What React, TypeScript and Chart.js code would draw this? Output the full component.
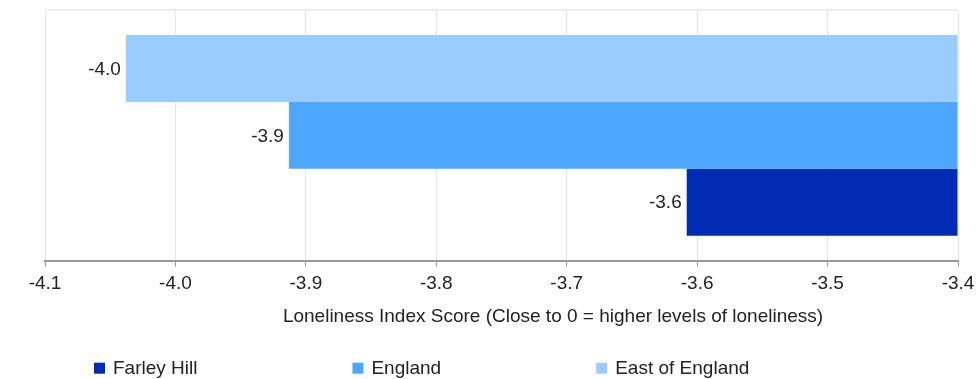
import React, { useEffect, useRef } from 'react';
import { Chart, registerables } from 'chart.js';

Chart.register(...registerables);

// ---- Data ----
const categories = ['Loneliness Index'];
const seriesNames = ['East of England', 'England', 'Farley Hill'];
const seriesValues = [-4.038, -3.913, -3.608];
const seriesColors = ['#99ccff', '#4da6ff', '#002db3'];
const legendOrder = ['Farley Hill', 'England', 'East of England'];
const xTickValues = [-4.1, -4.0, -3.9, -3.8, -3.7, -3.6, -3.5, -3.4];
const barBase = -3.4;
const axisTitle = 'Loneliness Index Score (Close to 0 = higher levels of loneliness)';

const FONT_FAMILY = '"Liberation Sans", Arial, sans-serif';
const FONT_SIZE = 19;
const TEXT_COLOR = '#222222';

const overlayPlugin = {
  id: 'overlay',
  afterDatasetsDraw(chart: any) {
    const ctx = chart.ctx;
    ctx.save();
    ctx.font = `${FONT_SIZE}px ${FONT_FAMILY}`;
    ctx.fillStyle = TEXT_COLOR;
    ctx.textAlign = 'right';
    ctx.textBaseline = 'middle';
    chart.data.datasets.forEach((ds: any, i: number) => {
      const meta = chart.getDatasetMeta(i);
      meta.data.forEach((bar: any, j: number) => {
        const v = ds.data[j] as number;
        ctx.fillText(v.toFixed(1), bar.x - 5, bar.y + 1);
      });
    });
    ctx.restore();
  },
  afterDraw(chart: any) {
    const ctx = chart.ctx;
    const area = chart.chartArea;
    ctx.save();
    ctx.font = `${FONT_SIZE}px ${FONT_FAMILY}`;
    ctx.fillStyle = TEXT_COLOR;
    // axis title
    ctx.textAlign = 'center';
    ctx.textBaseline = 'alphabetic';
    ctx.fillText(axisTitle, area.left + 508, area.bottom + 61);
    // legend
    ctx.textAlign = 'left';
    ctx.textBaseline = 'middle';
    let x = area.left + 49;
    const y = area.bottom + 107;
    legendOrder.forEach((name) => {
      const idx = seriesNames.indexOf(name);
      ctx.fillStyle = seriesColors[idx];
      ctx.fillRect(x, y - 5, 11, 11);
      ctx.fillStyle = TEXT_COLOR;
      ctx.fillText(name, x + 19, y + 1);
      const w = ctx.measureText(name).width;
      x += 19 + w + 155;
    });
    ctx.restore();
  },
};

export default function App() {
  const canvasRef = useRef<HTMLCanvasElement | null>(null);

  useEffect(() => {
    if (!canvasRef.current) return;
    const chart = new Chart(canvasRef.current, {
      type: 'bar',
      data: {
        labels: categories,
        datasets: seriesNames.map((name, i) => ({
          label: name,
          data: [seriesValues[i]],
          base: barBase,
          backgroundColor: seriesColors[i],
          borderWidth: 0,
          barPercentage: 1,
          categoryPercentage: 0.8,
        })),
      },
      options: {
        indexAxis: 'y',
        animation: false,
        responsive: false,
        maintainAspectRatio: false,
        layout: { padding: { left: 45, right: 20, top: 10, bottom: 77.5 } },
        plugins: {
          legend: { display: false },
          tooltip: { enabled: false },
        },
        scales: {
          x: {
            type: 'linear',
            min: -4.1,
            max: -3.4,
            afterBuildTicks: (scale: any) => {
              scale.ticks = xTickValues.map((v) => ({ value: v }));
            },
            afterFit: (scale: any) => {
              scale.paddingLeft = 0;
              scale.paddingRight = 0;
            },
            ticks: {
              callback: (v: any) => Number(v).toFixed(1),
              color: TEXT_COLOR,
              font: { size: FONT_SIZE, family: FONT_FAMILY },
              padding: 6,
              maxRotation: 0,
              autoSkip: false,
            },
            grid: {
              color: '#e6e6e6',
              tickColor: '#999999',
              tickLength: 6,
              lineWidth: 1,
            },
            border: { display: true, color: '#999999', width: 2 },
          },
          y: {
            type: 'category',
            ticks: { display: false },
            grid: { offset: true, color: '#eeeeee', drawTicks: false, lineWidth: 2 },
            border: { display: false },
          },
        },
      },
      plugins: [overlayPlugin],
    } as any);
    return () => chart.destroy();
  }, []);

  return (
    <div style={{ position: 'fixed', left: 0, top: 0, width: 978, height: 379, background: '#fff' }}>
      <canvas ref={canvasRef} width={978} height={379} style={{ display: 'block' }} />
    </div>
  );
}
